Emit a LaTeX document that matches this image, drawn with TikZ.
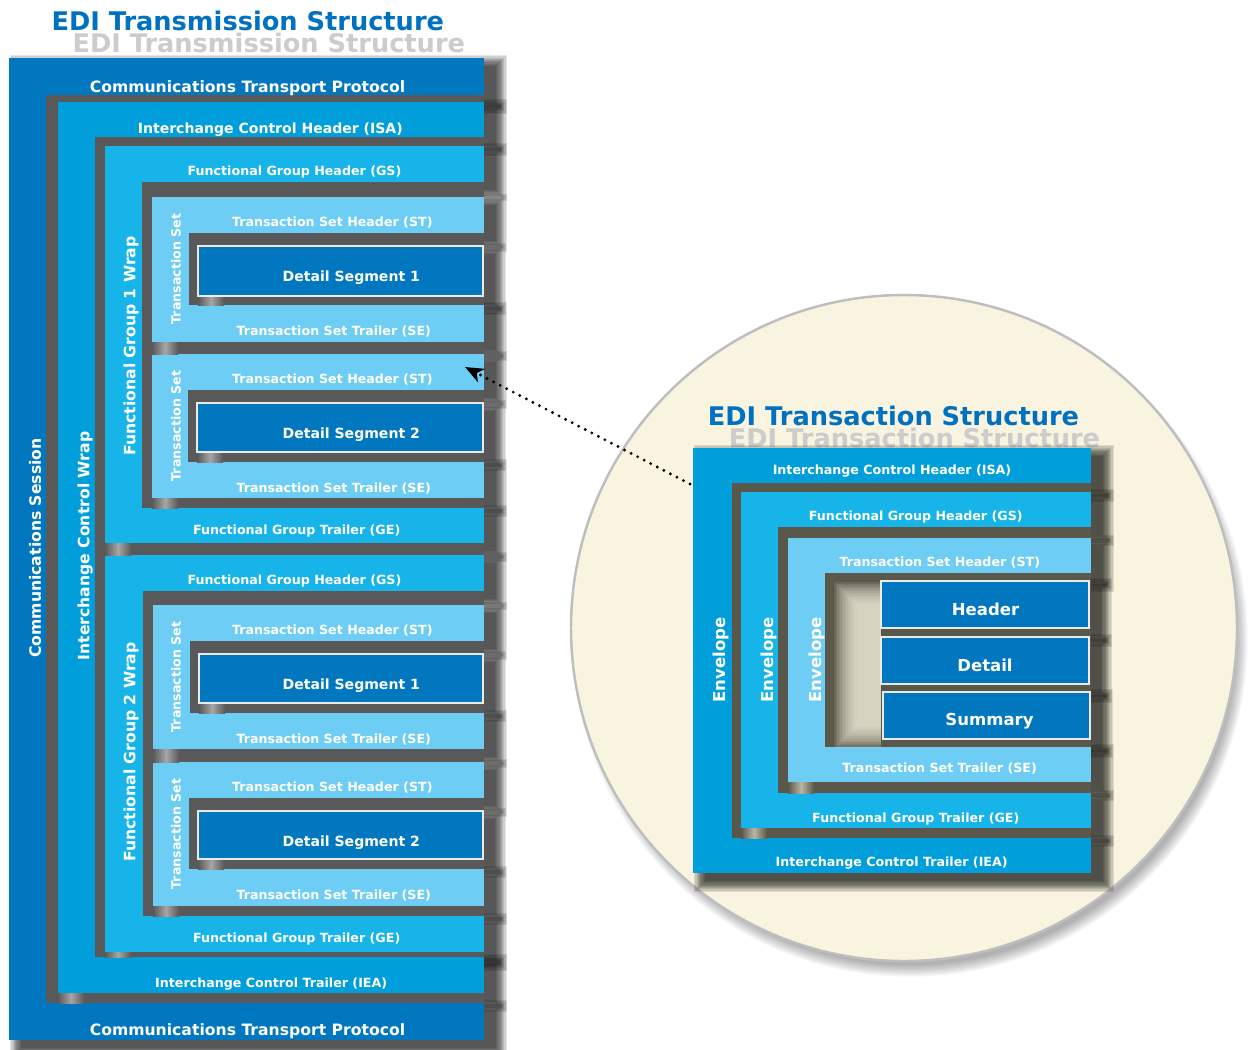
\documentclass[tikz,border=0pt]{standalone}
\usepackage{fontspec}
\setmainfont{DejaVu Sans}
\usetikzlibrary{arrows.meta}
\definecolor{ctpblue}{RGB}{0,119,190}
\definecolor{icwblue}{RGB}{0,158,219}
\definecolor{fgblue}{RGB}{22,180,232}
\definecolor{tsblue}{RGB}{110,205,244}
\definecolor{segblue}{RGB}{0,119,190}
\definecolor{framegray}{RGB}{89,89,89}
\definecolor{frameolive}{RGB}{90,88,74}
\definecolor{cream}{RGB}{248,244,223}
\definecolor{rimgray}{RGB}{190,190,190}
\definecolor{titleblue}{RGB}{0,112,192}
\newcommand\dropblur[4]{\foreach \k in {0,...,9}{\fill[black,opacity=0.1] ({#1+12-1.2*\k},{#2+8-1.2*\k}) rectangle ({#3+12+1.2*\k},{#4+8+1.2*\k});}}
\begin{document}
\begin{tikzpicture}[x=0.02cm, y=-0.02cm,
  lbl/.style={text=white, inner sep=0pt, anchor=base, font=\bfseries\fontsize{7.2}{8}\selectfont},
  lblm/.style={lbl, font=\bfseries\fontsize{8}{9}\selectfont},
  lblb/.style={lbl, font=\bfseries\fontsize{8.9}{10}\selectfont},
  lblh/.style={lbl, font=\bfseries\fontsize{9.4}{11}\selectfont},
  vlbl/.style={anchor=center, rotate=90},
  ttl/.style={text=titleblue, inner sep=0pt, anchor=base, font=\bfseries\fontsize{14.6}{17}\selectfont}]
\useasboundingbox (0,0) rectangle (1250,1049);
\node[ttl, text=black!20] (shL) at (268.8,52.5) {EDI Transmission Structure};
\node[ttl] (ttlL) at (247.8,30.7) {EDI Transmission Structure};
\foreach \k in {0,...,9}{\fill[black,opacity=0.035] (910,639) circle ({326+1.3*\k});}
\fill[cream] (904,628) circle (333);
\draw[rimgray, line width=1.4pt] (904,628) circle (333);
\node[ttl, text=black!20] (shR) at (914.5,447.2) {EDI Transaction Structure};
\node[ttl] (ttlR) at (893.5,425.4) {EDI Transaction Structure};
\foreach \a/\b/\c/\d in {9/58/484/95, 58/102/484/137, 105/146/484/182, 152/197/484/233, 198/246/483/296,
  152/305/484/342, 152/354/484/390, 197/403/483/452, 152/462/484/498, 105/508/484/543, 105/555/484/591,
  153/605/484/641, 199/654/483/703, 153/713/484/749, 153/762/484/798, 198/811/483/859, 153/869/484/906,
  105/916/484/952, 58/957/484/993, 9/1003/484/1040,
  693/448/1091/483, 741/492/1091/527, 788/538/1091/573, 881/581/1089/628, 881/637/1089/684,
  883/692/1090/739, 788/747/1091/782, 741/793/1091/828, 693/838/1091/873}{\dropblur{\a}{\b}{\c}{\d}}
\foreach \a/\b/\c/\d/\col in {9/58/484/1040/ctpblue, 46/95/484/1003/framegray, 58/102/484/993/icwblue,
  95/137/484/957/framegray, 105/146/484/543/fgblue, 105/555/484/952/fgblue,
  142/182/484/508/framegray, 143/591/484/916/framegray,
  152/197/484/342/tsblue, 152/354/484/498/tsblue, 153/605/484/749/tsblue, 153/762/484/906/tsblue,
  189/233/484/305/framegray, 188/390/484/462/framegray, 190/641/484/713/framegray, 189/798/484/869/framegray,
  693/448/1091/873/icwblue, 732/483/1091/838/frameolive, 741/492/1091/828/fgblue,
  778/527/1091/793/frameolive, 788/538/1091/782/tsblue, 825/573/1091/747/frameolive}
  \fill[\col] (\a,\b) rectangle (\c,\d);
\foreach \k in {0,...,15}{\fill[cream,opacity=0.1] ({834+1.5*\k},{582+1.5*\k}) rectangle (881,{748-1.5*\k});}
\foreach \a/\b/\c in {58/993/1003, 105/543/555, 105/952/957, 152/342/354, 152/498/508, 153/749/762,
  153/906/916, 198/296/305, 197/452/462, 199/703/713, 198/859/869}
  \shade[left color=framegray, right color=framegray, middle color=black!35] (\a,\b) rectangle (\a+26,\c);
\foreach \a/\b/\c in {741/828/838, 788/782/793}
  \shade[left color=frameolive, right color=frameolive, middle color=frameolive!40!cream] (\a,\b) rectangle (\a+26,\c);
\foreach \a/\b/\c/\d in {198/246/483/296, 197/403/483/452, 199/654/483/703, 198/811/483/859,
  881/581/1089/628, 881/637/1089/684, 883/692/1090/739}
  \filldraw[fill=segblue, draw=black!8, line width=1.1pt] (\a,\b) rectangle (\c,\d);
\node[lblb] (ctpT) at (247.5,92) {Communications Transport Protocol};
\node[lblb] (ctpB) at (247.5,1035) {Communications Transport Protocol};
\node[lblb, vlbl] (ctpS) at (35,548) {Communications Session};
\node[lblm] (icwH) at (270.3,133.3) {Interchange Control Header (ISA)};
\node[lbl] (icwT) at (271.2,987) {Interchange Control Trailer (IEA)};
\node[lblb, vlbl] (icwW) at (85,546) {Interchange Control Wrap};
\node[lbl] (fg1H) at (294.5,175.7) {Functional Group Header (GS)};
\node[lbl] (fg1T) at (296.7,534.7) {Functional Group Trailer (GE)};
\node[lbl] (fg2H) at (294.5,584.7) {Functional Group Header (GS)};
\node[lbl] (fg2T) at (296.7,942.7) {Functional Group Trailer (GE)};
\node[lblb, vlbl] (fg1W) at (131,346) {Functional Group 1 Wrap};
\node[lblb, vlbl] (fg2W) at (131,752) {Functional Group 2 Wrap};
\foreach \hy/\sy/\ry/\n [count=\i] in {197/246/305/1, 354/403/462/2, 605/654/713/1, 762/811/869/2}{
\node[lbl] (tsH\i) at (332.3,\hy+29.5) {Transaction Set Header (ST)};
\node[lblm] (seg\i) at (351.3,\sy+35.5) {Detail Segment \n};
\node[lbl] (tsT\i) at (333.8,\ry+30.5) {Transaction Set Trailer (SE)};
\node[lbl, vlbl] (tsV\i) at (176,\hy+72) {Transaction Set};}
\node[lbl] (rIcwH) at (892,474) {Interchange Control Header (ISA)};
\node[lbl] (rFgH) at (915.8,520.7) {Functional Group Header (GS)};
\node[lbl] (rTsH) at (939.8,566.5) {Transaction Set Header (ST)};
\node[lblh] (rHead) at (985.5,615) {Header};
\node[lblh] (rDet) at (985,671) {Detail};
\node[lblh] (rSum) at (989.5,725) {Summary};
\node[lbl] (rTsT) at (939.7,772.7) {Transaction Set Trailer (SE)};
\node[lbl] (rFgT) at (915.8,822.5) {Functional Group Trailer (GE)};
\node[lbl] (rIcwT) at (891.7,866.5) {Interchange Control Trailer (IEA)};
\foreach \p/\q in {1/721, 2/769, 3/817}
  \node[lblh, vlbl] (rEnv\p) at (\q,660) {Envelope};
\coordinate (envpt) at (690,484);
\coordinate (tspt) at (465,367);
\draw[line width=1.8pt, line cap=round, dash pattern=on 0pt off 4.2pt,
  -{Stealth[length=10.5pt,width=8.5pt,inset=3pt]}] (envpt) -- (tspt);
\end{tikzpicture}
\end{document}
